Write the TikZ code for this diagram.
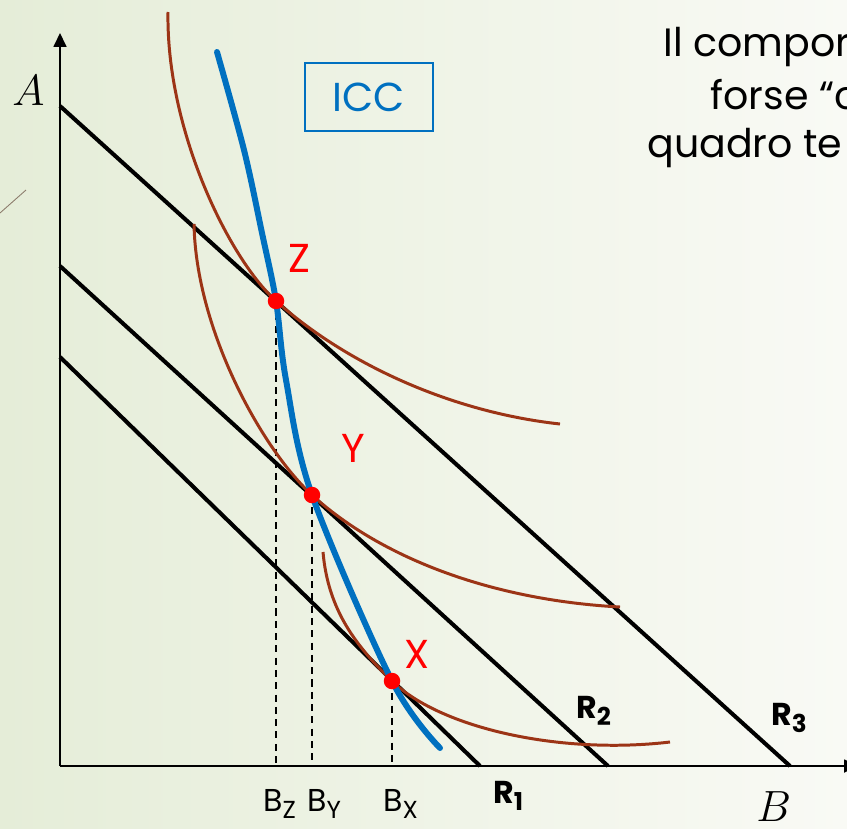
\documentclass[tikz,border=0pt]{standalone}
\usepackage{fontspec}
\setmainfont{Poppins}
\usepackage{tikz}
\usetikzlibrary{arrows.meta, positioning, calc}
\definecolor{iccblue}{HTML}{0070C0}
\definecolor{icbrown}{HTML}{9C3416}
\definecolor{slidegreen}{HTML}{E5EDD8}
\definecolor{slidewhite}{HTML}{F9FAF5}
\definecolor{strayline}{HTML}{8C7C6C}
\newcommand{\lowsub}[2]{#1\raisebox{-4.5pt}{\fontsize{14}{16}\selectfont #2}}
\tikzset{
  axisline/.style={
    line width=1pt, -{Triangle[length=2.8mm, width=2.6mm]}
  },
  budgetline/.style={
    line width=2.3pt, black
  },
  indiffcurve/.style={
    line width=1.7pt, icbrown
  },
  iccline/.style={
    line width=3.4pt, iccblue, line cap=round
  },
  dropline/.style={
    line width=0.8pt, dash pattern=on 4pt off 3pt
  },
  tangdot/.style={
    circle, fill=red, inner sep=0pt, minimum size=3.3mm
  },
  ptlabel/.style={
    font=\fontsize{23}{26}\selectfont, text=red,
    inner sep=0pt, anchor=base west
  },
  blabel/.style={
    font=\fontsize{18}{20}\selectfont, inner sep=0pt, anchor=base west
  },
  rlabel/.style={
    font=\fontsize{18}{20}\selectfont\bfseries, inner sep=0pt,
    anchor=base west
  },
  slidetext/.style={
    font=\fontsize{22.5}{26}\selectfont, inner sep=0pt, anchor=base west
  },
}

\begin{document}
\begin{tikzpicture}[x=0.02cm, y=-0.02cm]
  % Slide background
  \useasboundingbox (0,0) rectangle (847,828);
  \clip (0,0) rectangle (847,828);
  \shade[left color=slidegreen, right color=slidewhite]
    (0,0) rectangle (847,828);
  \draw[strayline, line width=0.5pt] (0,213) -- (26,190);

  % Axes
  \coordinate (origin) at (60,766);
  \coordinate (ytip) at (60,33);
  \coordinate (xtip) at (858,766);
  \draw[axisline] (origin) -- (ytip);
  \draw[axisline] (origin) -- (xtip);
  \node[font=\fontsize{24}{28}\selectfont, inner sep=0pt, anchor=base west]
    (alabel) at (12,105) {$A$};
  \node[font=\fontsize{24}{28}\selectfont, inner sep=0pt, anchor=base west]
    (blabelaxis) at (756,821) {$B$};

  % Tangency points
  \coordinate (z) at (276,301);
  \coordinate (y) at (312,495);
  \coordinate (x) at (392,681);
  \coordinate (bz) at (276,766);
  \coordinate (by) at (312,766);
  \coordinate (bx) at (392,766);

  % Drop lines to the B axis
  \draw[dropline] (z) -- (bz);
  \draw[dropline] (y) -- (by);
  \draw[dropline] (x) -- (bx);

  % Budget lines
  \coordinate (r3a) at (60,106);
  \coordinate (r3b) at (790,766);
  \coordinate (r2a) at (60,266);
  \coordinate (r2b) at (608,766);
  \coordinate (r1a) at (60,357);
  \coordinate (r1b) at (480,766);
  \draw[budgetline] (r3a) -- (r3b);
  \draw[budgetline] (r2a) -- (r2b);
  \draw[budgetline] (r1a) -- (r1b);

  % Indifference curves
  \draw[indiffcurve] (168,12) .. controls (166,130) and (229,258.5) .. (z)
    .. controls (345,363) and (450,412) .. (560,424);
  \draw[indiffcurve] (194,224) .. controls (196,330) and (262,449) .. (y)
    .. controls (380,557) and (490,600) .. (620,607);
  \draw[indiffcurve] (323,552) .. controls (328,610) and (356,646) .. (x)
    .. controls (440,728) and (560,755) .. (670,742);

  % Income consumption curve
  \draw[iccline] plot[smooth, tension=0.55] coordinates
    {(217,52) (244,150) (262,233) (z) (286,380) (y) (x) (440,748)};
  \node[draw=iccblue, line width=0.7pt, text=iccblue,
    font=\fontsize{23}{26}\selectfont, minimum width=2.56cm,
    minimum height=1.36cm, inner sep=0pt] (icc) at (369,97) {ICC};

  % Dots and labels
  \node[tangdot] (Z) at (z) {};
  \node[tangdot] (Y) at (y) {};
  \node[tangdot] (X) at (x) {};
  \node[ptlabel] (zlabel) at (288,272) {Z};
  \node[ptlabel] (ylabel) at (341,462) {Y};
  \node[ptlabel] (xlabel) at (404,668) {X};

  \node[blabel] (bzlabel) at (263,811) {\lowsub{B}{Z}};
  \node[blabel] (bylabel) at (307,811) {\lowsub{B}{Y}};
  \node[blabel] (bxlabel) at (383,811) {\lowsub{B}{X}};

  \node[rlabel] (r1label) at (493,803) {\lowsub{R}{1}};
  \node[rlabel] (r2label) at (576,718) {\lowsub{R}{2}};
  \node[rlabel] (r3label) at (771,725) {\lowsub{R}{3}};

  % Slide text, cut at the right edge
  \node[slidetext] (line1) at (663,57) {Il compor};
  \node[slidetext] (line2) at (710,110) {forse “c};
  \node[slidetext] (line3) at (647,157) {quadro te};
\end{tikzpicture}
\end{document}
